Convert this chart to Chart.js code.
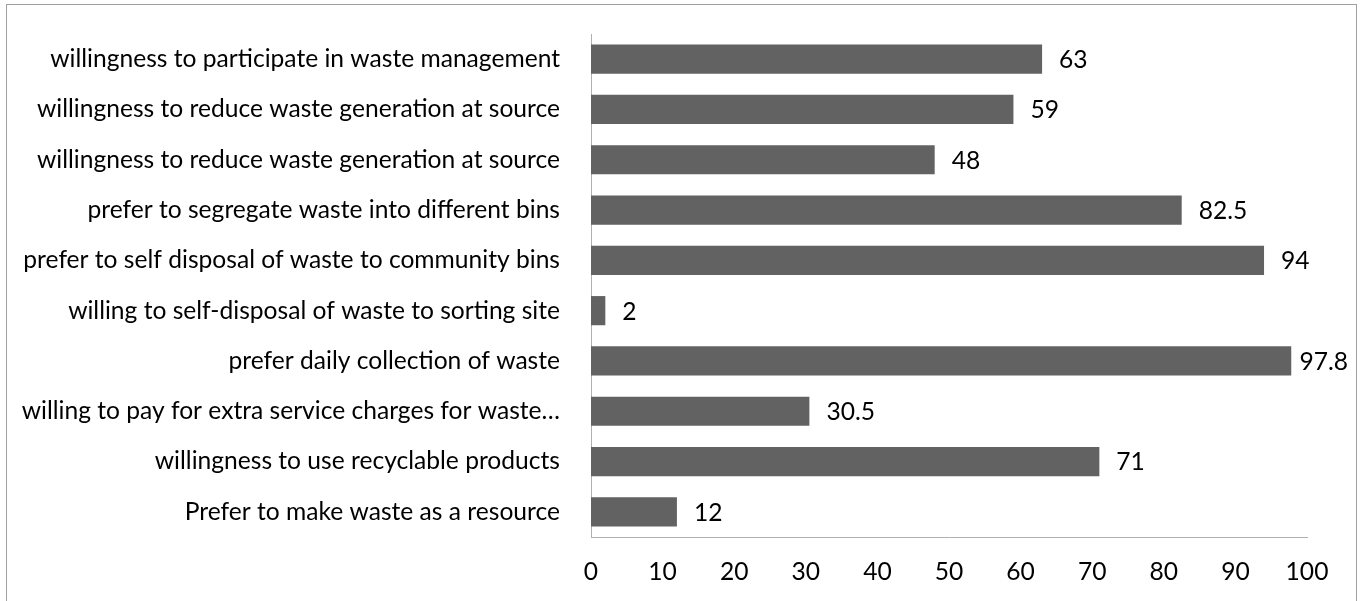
<!DOCTYPE html>
<html><head><meta charset="utf-8">
<script src="https://cdn.jsdelivr.net/npm/chart.js@4.4.1/dist/chart.umd.min.js"></script>
<style>
html,body{margin:0;padding:0;background:#fff;}
#wrap{position:relative;width:1364px;height:601px;overflow:hidden;background:#fff;}
#frame{position:absolute;left:6px;top:4px;width:1351px;height:640px;border:1px solid #a0a0a0;box-sizing:border-box;}
canvas{position:absolute;left:0;top:0;}
</style></head><body>
<div id="wrap"><div id="frame"></div><canvas id="c" width="1364" height="601"></canvas></div>
<script>
const categories = [
  "willingness to participate in waste management",
  "willingness to reduce waste generation at source",
  "willingness to reduce waste generation at source",
  "prefer to segregate waste into different bins",
  "prefer to self disposal of waste to community bins",
  "willing to self-disposal of waste to sorting site",
  "prefer daily collection of waste",
  "willing to pay for extra service charges for waste\u2026",
  "willingness to use recyclable products",
  "Prefer to make waste as a resource"
];
const values = [63, 59, 48, 82.5, 94, 2, 97.8, 30.5, 71, 12];
const xMin = 0, xMax = 100, xStep = 10;

const FONT_FAMILY = "Lato, 'Open Sans', sans-serif";
const FONT_SIZE = 24.6;

const valueLabels = {
  id: 'valueLabels',
  afterDatasetsDraw(chart) {
    const ctx = chart.ctx;
    const meta = chart.getDatasetMeta(0);
    ctx.save();
    ctx.font = FONT_SIZE + 'px ' + FONT_FAMILY;
    ctx.fillStyle = '#000';
    ctx.textBaseline = 'middle';
    ctx.textAlign = 'left';
    meta.data.forEach((bar, i) => {
      const txt = String(values[i]);
      const w = ctx.measureText(txt).width;
      const x = Math.min(bar.x + 17, 1348 - w);
      ctx.fillText(txt, x, bar.y + 1);
    });
    ctx.restore();
  }
};

new Chart(document.getElementById('c'), {
  type: 'bar',
  data: {
    labels: categories,
    datasets: [{
      data: values,
      backgroundColor: '#626262',
      borderWidth: 0,
      barPercentage: 0.58,
      categoryPercentage: 1
    }]
  },
  options: {
    indexAxis: 'y',
    responsive: false,
    animation: false,
    layout: { padding: { top: 34, right: 57, left: 0, bottom: 0 } },
    plugins: { legend: { display: false }, tooltip: { enabled: false } },
    scales: {
      x: {
        min: xMin, max: xMax,
        ticks: { stepSize: xStep, color: '#000', padding: 20, font: { family: FONT_FAMILY, size: FONT_SIZE } },
        grid: { display: false, drawTicks: false },
        border: { display: true, color: '#b0b0b0', width: 1 },
        afterFit(scale) { scale.height = 64; scale.paddingLeft = 0; scale.paddingRight = 0; }
      },
      y: {
        ticks: { color: '#000', padding: 31, autoSkip: false, font: { family: FONT_FAMILY, size: FONT_SIZE } },
        grid: { display: false, drawTicks: false },
        border: { display: true, color: '#b0b0b0', width: 1 },
        afterFit(scale) { scale.width = 591; scale.paddingTop = 0; scale.paddingBottom = 0; }
      }
    }
  },
  plugins: [valueLabels]
});
</script>
</body></html>
